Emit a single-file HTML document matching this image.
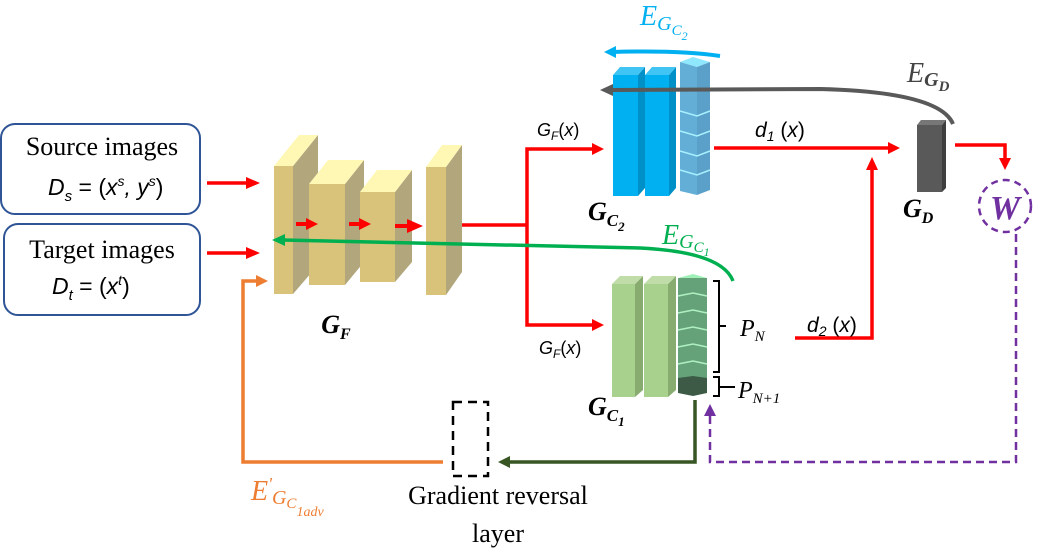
<!DOCTYPE html>
<html><head><meta charset="utf-8"><style>
html,body{margin:0;padding:0;background:#fff;}
svg{display:block;}
.s{font-family:"Liberation Serif",serif;}
.a{font-family:"Liberation Sans",sans-serif;}
</style></head><body>
<svg width="1040" height="557" viewBox="0 0 1040 557" xmlns="http://www.w3.org/2000/svg">
<!-- input boxes -->
<rect x="1" y="124" width="199" height="90" rx="14" fill="#fff" stroke="#2f5597" stroke-width="2"/>
<rect x="4" y="224" width="196" height="91" rx="14" fill="#fff" stroke="#2f5597" stroke-width="2"/>
<text x="102" y="155" class="s" font-size="26" text-anchor="middle">Source images</text>
<text x="48" y="195" class="a" font-size="23" font-style="italic">D<tspan font-size="15" dy="6">s</tspan><tspan dy="-6" font-style="normal"> = (</tspan>x<tspan font-size="14" dy="-9">s</tspan><tspan dy="9">, y</tspan><tspan font-size="14" dy="-9">s</tspan><tspan dy="9" font-style="normal">)</tspan></text>
<text x="102" y="258" class="s" font-size="26" text-anchor="middle">Target images</text>
<text x="52" y="294" class="a" font-size="23" font-style="italic">D<tspan font-size="15" dy="6">t</tspan><tspan dy="-6" font-style="normal"> = (</tspan>x<tspan font-size="14" dy="-9">t</tspan><tspan dy="9" font-style="normal">)</tspan></text>

<!-- G_F blocks -->
<g stroke="none">
<polygon points="293,166 318,135 318,265 293,294" fill="#b1a67c"/><polygon points="274,166 299,135 318,135 293,166" fill="#fff8b4"/><rect x="274" y="166" width="19" height="128" fill="#d9c27a"/>
<polygon points="345,184 364,160 364,262 345,285" fill="#b1a67c"/><polygon points="309,184 328,160 364,160 345,184" fill="#fff8b4"/><rect x="309" y="184" width="36" height="101" fill="#d9c27a"/>
<polygon points="395,192 412,170 412,262 395,282" fill="#b1a67c"/><polygon points="360,192 377,170 412,170 395,192" fill="#fff8b4"/><rect x="360" y="192" width="35" height="90" fill="#d9c27a"/>
<polygon points="446,167 462,145 462,272 446,295" fill="#b1a67c"/><polygon points="426,167 442,145 462,145 446,167" fill="#fff8b4"/><rect x="426" y="167" width="20" height="128" fill="#d9c27a"/>
</g>
<g fill="#ff0000">
<rect x="296" y="222" width="10" height="4"/><polygon points="306,218 318,224 306,230"/>
<rect x="349" y="222" width="10" height="4"/><polygon points="359,218 371,224 359,230"/>
<rect x="395" y="224" width="12" height="4"/><polygon points="407,219 423,226 407,233"/>
</g>
<text x="336" y="333" class="s" font-size="26" font-weight="bold" font-style="italic" text-anchor="middle">G<tspan font-size="16" dy="6">F</tspan></text>

<!-- red arrows -->
<g stroke="#ff0000" stroke-width="3.5" fill="none">
<line x1="207" y1="183" x2="248" y2="183"/><line x1="207" y1="253" x2="248" y2="253"/>
<polyline points="462,225 527,225"/><polyline points="594,149 527,149 527,325 594,325"/>
<line x1="714" y1="148" x2="890" y2="148"/>
<polyline points="795,338 872,338 872,168"/>
<polyline points="955,145 1005,145 1005,160"/>
</g>
<g fill="#ff0000">
<polygon points="246,177 260,183 246,189"/><polygon points="246,247 260,253 246,259"/>
<polygon points="592,143 604,149 592,155"/><polygon points="592,319 604,325 592,331"/>
<polygon points="888,142 900,148 888,154"/><polygon points="866,170 872,157 878,170"/>
<polygon points="999,158 1005,170 1011,158"/>
</g>
<text x="537" y="136" class="a" font-size="18" font-style="italic">G<tspan font-size="12" dy="4">F</tspan><tspan dy="-4" font-style="normal">(</tspan>x<tspan font-style="normal">)</tspan></text>
<text x="539" y="354" class="a" font-size="18" font-style="italic">G<tspan font-size="12" dy="4">F</tspan><tspan dy="-4" font-style="normal">(</tspan>x<tspan font-style="normal">)</tspan></text>
<text x="755" y="137" class="a" font-size="21" font-style="italic">d<tspan font-size="14" dy="4">1</tspan><tspan dy="-4" font-style="normal"> (</tspan>x<tspan font-style="normal">)</tspan></text>
<text x="807" y="332" class="a" font-size="21" font-style="italic">d<tspan font-size="14" dy="4">2</tspan><tspan dy="-4" font-style="normal"> (</tspan>x<tspan font-style="normal">)</tspan></text>

<!-- blue classifier -->
<polygon points="638,75 645,67 645,188 638,196" fill="#0090c8"/><polygon points="613,75 620,67 645,67 638,75" fill="#40c4f4"/><rect x="613" y="75" width="25" height="121" fill="#00b0f0"/>
<polygon points="669,75 676,67 676,188 669,196" fill="#0090c8"/><polygon points="645,75 652,67 676,67 669,75" fill="#40c4f4"/><rect x="645" y="75" width="24" height="121" fill="#00b0f0"/>
<polygon points="680,62 697,67 710,62 693,57" fill="#90e8ff"/>
<polygon points="680,62 697,67 697,195 680,191" fill="#62aed6"/>
<polygon points="697,67 710,62 710,190 697,195" fill="#5aa0c8"/>
<g stroke="#a8f0ff" stroke-width="1.5" fill="none">
<polyline points="680,111 697,116 710,111"/><polyline points="680,131 697,136 710,131"/><polyline points="680,151 697,156 710,151"/><polyline points="680,170 697,175 710,170"/>
</g>
<text x="588" y="220" class="s" font-size="26" font-weight="bold" font-style="italic">G<tspan font-size="17" dy="6">C</tspan><tspan font-size="13" dy="5">2</tspan></text>

<!-- green classifier -->
<polygon points="635,284 643,276 643,390 635,397" fill="#88ac70"/><polygon points="612,284 620,276 643,276 635,284" fill="#c0dca8"/><rect x="612" y="284" width="23" height="113" fill="#a9d18e"/>
<polygon points="668,284 676,276 676,390 668,397" fill="#88ac70"/><polygon points="644,284 652,276 676,276 668,284" fill="#c0dca8"/><rect x="644" y="284" width="24" height="113" fill="#a9d18e"/>
<polygon points="678,278 693,281 707,278 693,274" fill="#a0f0b8"/>
<rect x="678" y="278" width="29" height="100" fill="#65a27a"/>
<polygon points="678,378 693,376 707,378 707,393 693,396 678,393" fill="#3c5a46"/>
<g stroke="#b0f0c0" stroke-width="1.5" fill="none">
<polyline points="678,296 693,293 707,296"/><polyline points="678,313 693,310 707,313"/><polyline points="678,330 693,327 707,330"/><polyline points="678,347 693,344 707,347"/><polyline points="678,364 693,361 707,364"/>
</g>
<text x="588" y="415" class="s" font-size="26" font-weight="bold" font-style="italic">G<tspan font-size="17" dy="6">C</tspan><tspan font-size="13" dy="5">1</tspan></text>
<g stroke="#000" stroke-width="2" fill="none">
<polyline points="713,281 719,281 719,372 713,372"/><line x1="719" y1="326" x2="726" y2="326"/>
<polyline points="713,377 719,377 719,396 713,396"/><line x1="719" y1="387" x2="735" y2="387"/>
</g>
<text x="740" y="336" class="s" font-size="24" font-style="italic">P<tspan font-size="15" dy="5">N</tspan></text>
<text x="738" y="398" class="s" font-size="24" font-style="italic">P<tspan font-size="15" dy="5">N+1</tspan></text>

<!-- G_D -->
<polygon points="917,125 921,120 946,120 942,125" fill="#777"/>
<polygon points="942,125 946,120 946,188 942,192" fill="#3e3e3e"/>
<rect x="917" y="125" width="25" height="67" fill="#595959"/>
<text x="903" y="217" class="s" font-size="26" font-weight="bold" font-style="italic">G<tspan font-size="16" dy="6">D</tspan></text>

<!-- W -->
<circle cx="1005" cy="206" r="26" fill="#fff" stroke="#7030a0" stroke-width="2.5" stroke-dasharray="7,5"/>
<text x="1005" y="219" class="s" font-size="34" font-style="italic" font-weight="bold" fill="#7030a0" text-anchor="middle">W</text>

<!-- feedback curves -->
<path d="M720,56 Q680,50 612,52" stroke="#00b0f0" stroke-width="4" fill="none"/>
<polygon points="604,52 616,46 616,58" fill="#00b0f0"/>
<text x="640" y="25" class="s" font-size="28" font-style="italic" fill="#00b0f0">E<tspan font-size="20" dy="5">G</tspan><tspan font-size="15" dy="5">C</tspan><tspan font-size="12" dy="5">2</tspan></text>

<path d="M953,124 Q940,92 820,89 L610,90" stroke="#595959" stroke-width="4" fill="none"/>
<polygon points="600,90 613,84 613,96" fill="#595959"/>
<text x="907" y="82" class="s" font-size="28" font-style="italic" fill="#444">E<tspan font-size="20" font-weight="bold" dy="4">G</tspan><tspan font-size="15" font-weight="bold" dy="5">D</tspan></text>

<path d="M733,281 Q722,252 640,248 L283,240" stroke="#00b050" stroke-width="3.5" fill="none"/>
<polygon points="272,240 285,234 285,246" fill="#00b050"/>
<text x="662" y="244" class="s" font-size="28" font-style="italic" fill="#00b050">E<tspan font-size="20" dy="4">G</tspan><tspan font-size="15" dy="4">C</tspan><tspan font-size="12" dy="4">1</tspan></text>

<!-- bottom paths -->
<polyline points="443,462 243,462 243,281 258,281" stroke="#ed7d31" stroke-width="3.5" fill="none"/>
<polygon points="256,275 268,281 256,287" fill="#ed7d31"/>
<text x="251" y="500" class="s" font-size="28" font-style="italic" fill="#ed7d31">E<tspan font-size="18" dy="-10">'</tspan><tspan font-size="20" dy="14">G</tspan><tspan font-size="15" dy="4">C</tspan><tspan font-size="14" dy="8">1adv</tspan></text>

<rect x="453" y="402" width="35" height="74" fill="none" stroke="#000" stroke-width="2.5" stroke-dasharray="9,6"/>
<polyline points="695,400 695,462 508,462" stroke="#375623" stroke-width="3.5" fill="none"/>
<polygon points="498,462 510,456 510,468" fill="#375623"/>
<text x="498" y="504" class="s" font-size="26" text-anchor="middle">Gradient reversal</text>
<text x="498" y="542" class="s" font-size="26" text-anchor="middle">layer</text>

<polyline points="1016,234 1016,462 710,462 710,414" stroke="#7030a0" stroke-width="2.5" fill="none" stroke-dasharray="8,5"/>
<polygon points="704,416 710,404 716,416" fill="#7030a0"/>
</svg>
</body></html>
